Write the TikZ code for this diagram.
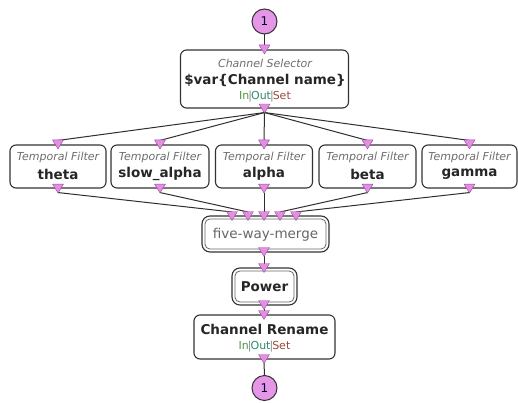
\documentclass[tikz,border=0pt]{standalone}
\usepackage{fontspec}
\setmainfont{DejaVu Sans}
\usetikzlibrary{calc}
\definecolor{portc}{HTML}{E48DE4}
\definecolor{portd}{HTML}{9A4A9A}
\definecolor{termc}{HTML}{E696E6}
\definecolor{boxd}{HTML}{333333}
\definecolor{subc}{HTML}{6E6E6E}
\definecolor{inc}{HTML}{4E9A3E}
\definecolor{outc}{HTML}{2E8B6A}
\definecolor{setc}{HTML}{9A4A3A}
\definecolor{pipec}{HTML}{8090A0}
\tikzset{
  box/.style={draw=boxd, line width=1.1pt, fill=white, rounded corners=6pt, inner sep=0pt},
  dbox/.style={draw=boxd, line width=1.1pt, fill=white, rounded corners=8pt, inner sep=0pt},
  dinner/.style={draw=black!60, line width=0.8pt, rounded corners=5pt},
  wire/.style={draw=boxd!90!black, line width=1pt},
  sub/.style={font=\fontsize{11}{12}\selectfont\itshape, text=subc, inner sep=0pt},
  ttl/.style={font=\fontsize{13.5}{15}\selectfont\bfseries, text=black!85, inner sep=0pt},
  ios/.style={font=\fontsize{11}{12}\selectfont, inner sep=0pt},
  term/.style={circle, draw=boxd, line width=1pt, fill=termc, minimum size=25pt, inner sep=0pt, font=\fontsize{12}{13}\selectfont, text=black!70!blue!60!black},
  port/.style={fill=portc, draw=portd, line width=0.4pt, line join=round}
}
\newcommand\inport[1]{\path[port] ($(#1)+(-5.5,-4.5)$) -- ++(11,0) -- ++(-5.5,9) -- cycle;}
\newcommand\iolabel{\textcolor{inc}{In}\kern-1pt\textcolor{pipec}{|}\kern-1pt\textcolor{outc}{Out}\kern-1pt\textcolor{pipec}{|}\kern-1pt\textcolor{setc}{Set}}
\begin{document}
\begin{tikzpicture}[x=1pt,y=-1pt]
\useasboundingbox (0,0) rectangle (518,403);
% terminals
\node[term] (t1) at (264.5,21.5) {1};
\node[term] (t2) at (264.5,388) {1};
% boxes
\node[box, minimum width=168pt, minimum height=58pt] (cs) at (264.5,79) {};
\node[box, minimum width=96pt, minimum height=43pt] (f1) at (58,166.5) {};
\node[box, minimum width=98pt, minimum height=43pt] (f2) at (160,166.5) {};
\node[box, minimum width=97pt, minimum height=43pt] (f3) at (264,166.5) {};
\node[box, minimum width=97pt, minimum height=43pt] (f4) at (367.5,166.5) {};
\node[box, minimum width=95pt, minimum height=43pt] (f5) at (469.5,166.5) {};
\node[dbox, minimum width=127pt, minimum height=36pt] (mg) at (265.5,234) {};
\draw[dinner] ($(mg.north west)+(3.5,3.5)$) rectangle ($(mg.south east)+(-3.5,-3.5)$);
\node[dbox, minimum width=65pt, minimum height=37pt] (pw) at (264.5,286.5) {};
\draw[dinner] ($(pw.north west)+(3.5,3.5)$) rectangle ($(pw.south east)+(-3.5,-3.5)$);
\node[box, minimum width=141pt, minimum height=44pt] (cr) at (264.5,337) {};
% ports
\coordinate (csi) at (cs.north);
\coordinate (cso) at (cs.south);
\foreach \f in {f1,f2,f3,f4,f5}{
  \coordinate (\f i) at (\f.north);
  \coordinate (\f o) at (\f.south);
}
\coordinate (m1) at (232,216);
\coordinate (m2) at (248,216);
\coordinate (m3) at (264,216);
\coordinate (m4) at (280,216);
\coordinate (m5) at (296,216);
\coordinate (mo) at (264,252);
\coordinate (pwi) at (264,268);
\coordinate (pwo) at (264,305);
\coordinate (cri) at (264,315);
\coordinate (cro) at (264,359);
% wires
\draw[wire] (t1.south) -- ($(csi)+(0,-4)$);
\foreach \f in {f1,f2,f3,f4,f5}{
  \draw[wire] ($(cso)+(0,4)$) -- ($(\f i)+(0,-4)$);
}
\foreach \f/\m in {f1/m1,f2/m2,f3/m3,f4/m4,f5/m5}{
  \draw[wire] ($(\f o)+(0,4)$) -- ($(\m)+(0,-4)$);
}
\draw[wire] ($(mo)+(0,4)$) -- ($(pwi)+(0,-4)$);
\draw[wire] ($(pwo)+(0,4)$) -- ($(cri)+(0,-4)$);
\draw[wire] ($(cro)+(0,4)$) -- (t2.north);
% port triangles
\inport{csi}\inport{cso}
\foreach \f in {f1,f2,f3,f4,f5}{\inport{\f i}\inport{\f o}}
\foreach \m in {m1,m2,m3,m4,m5}{\inport{\m}}
\inport{mo}\inport{pwi}\inport{pwo}\inport{cri}\inport{cro}
% texts
\node[sub] (cst) at (265,63) {Channel Selector};
\node[ttl] (csn) at (265,80) {\$var\{Channel name\}};
\node[ios] (csio) at (265,97) {\iolabel};
\foreach \f/\n in {f1/theta,f2/slow\_alpha,f3/alpha,f4/beta,f5/gamma}{
  \node[sub] at ($(\f)+(0,-9.5)$) {Temporal Filter};
  \node[ttl] at ($(\f)+(0,7.5)$) {\n};
}
\node[font=\fontsize{13.5}{15}\selectfont, text=black!60, inner sep=0pt] (mgt) at (265.5,235) {five-way-merge};
\node[ttl] (pwt) at (264.5,287) {Power};
\node[ttl] (crt) at (264.5,329) {Channel Rename};
\node[ios] (crio) at (264.5,347) {\iolabel};
\end{tikzpicture}
\end{document}
